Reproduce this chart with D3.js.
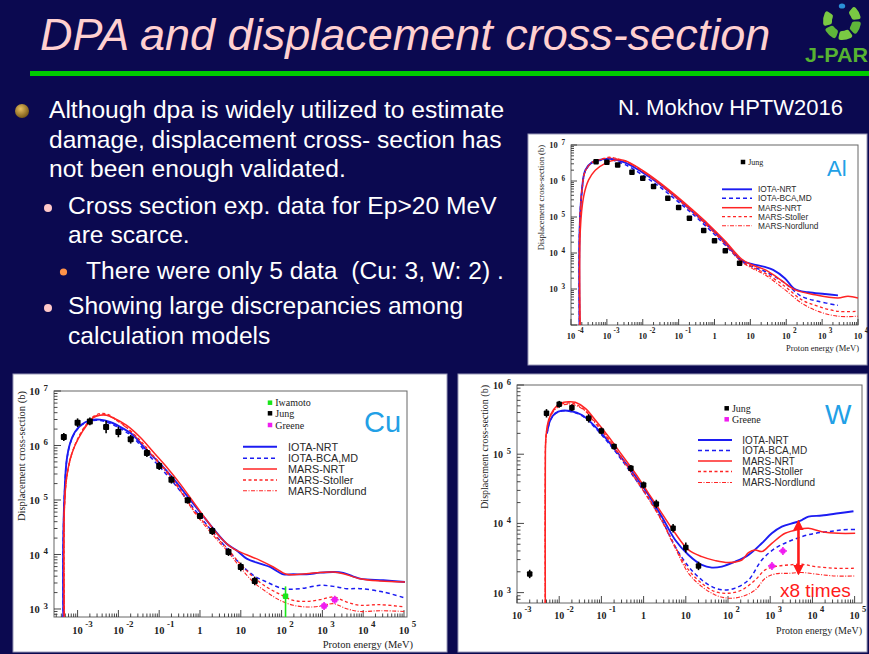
<!DOCTYPE html>
<html>
<head>
<meta charset="utf-8">
<script src="https://cdn.jsdelivr.net/npm/d3@7"></script>
<style>
  html, body { margin: 0; padding: 0; background: #0b0950; }
  svg { display: block; }
</style>
</head>
<body>
<svg id="slide" width="869" height="654"></svg>
<script>
// ===================== DATA =====================
// Energies in MeV, displacement cross-sections in barns.

// ---- Al ----
const alJungE     = [5e-4, 1e-3, 2e-3, 5e-3, 1e-2, 2e-2, 5e-2, 0.1, 0.2, 0.5, 1, 2, 5];
const alJungSigma = [3.45e6, 3.3e6, 2.8e6, 1.75e6, 1.19e6, 7.0e5, 3.3e5, 1.83e5, 9.3e4, 4.2e4, 2.2e4, 1.15e4, 5.2e3];

const alIotaNrt = [[1.74e-4,50],[1.74e-4,4.4e4],[2.02e-4,5.7e5],[2.51e-4,2.0e6],[3.84e-4,3.3e6],[7.3e-4,4.0e6],[1.38e-3,4.1e6],[3.24e-3,3.24e6],[9.4e-3,1.79e6],[2.74e-2,8.7e5],[7.96e-2,3.7e5],[0.231,1.48e5],[0.673,5.7e4],[1.95,1.96e4],[5.68,6.2e3],[10.8,5.0e3],[25.3,4.1e3],[43,3.4e3],[91,2.0e3],[173,1.0e3],[406,810],[1178,727],[2767,667]];
const alIotaBca = [[1.74e-4,50],[1.74e-4,4.4e4],[2.02e-4,5.5e5],[2.51e-4,1.9e6],[3.84e-4,3.2e6],[7.3e-4,3.8e6],[1.38e-3,3.8e6],[3.24e-3,2.85e6],[9.4e-3,1.51e6],[2.74e-2,7.3e5],[7.96e-2,3.12e5],[0.231,1.28e5],[0.673,4.8e4],[1.95,1.69e4],[5.68,5.85e3],[10.8,4.25e3],[25.3,3.09e3],[91,1.47e3],[265,627],[769,455],[2767,352]];
const alMarsNrt = [[1.82e-4,50],[1.82e-4,4.4e4],[2.25e-4,3.7e5],[3.1e-4,1.07e6],[4.75e-4,2.0e6],[9.0e-4,3.1e6],[1.71e-3,3.84e6],[3.24e-3,3.68e6],[9.4e-3,2.03e6],[2.74e-2,9.6e5],[7.96e-2,4.1e5],[0.231,1.65e5],[0.673,6.3e4],[1.95,2.18e4],[5.68,6.8e3],[10.8,4.7e3],[25.3,3.44e3],[59.4,2.02e3],[173,960],[621,697],[2767,564],[5248,627],[1e4,564]];
const alMarsStoller = [[1.74e-4,50],[1.74e-4,4.4e4],[2.02e-4,5.7e5],[2.51e-4,1.9e6],[3.84e-4,3.3e6],[7.3e-4,4.1e6],[1.2e-3,4.6e6],[1.71e-3,4.3e6],[3.24e-3,3.6e6],[9.4e-3,1.95e6],[2.74e-2,9.0e5],[7.96e-2,3.8e5],[0.231,1.5e5],[0.673,5.6e4],[1.95,1.9e4],[5.68,6.0e3],[10.8,4.1e3],[25.3,2.77e3],[91,1.19e3],[265,506],[769,331],[2767,240],[1e4,240]];
const alMarsNordlund = [[1.74e-4,50],[1.74e-4,4.4e4],[2.02e-4,5.5e5],[2.51e-4,1.9e6],[3.84e-4,3.2e6],[7.3e-4,4.0e6],[1.2e-3,4.4e6],[1.71e-3,4.2e6],[3.24e-3,3.5e6],[9.4e-3,1.9e6],[2.74e-2,8.6e5],[7.96e-2,3.6e5],[0.231,1.42e5],[0.673,5.3e4],[1.95,1.8e4],[5.68,5.7e3],[10.8,3.8e3],[25.3,2.5e3],[91,960],[265,409],[769,240],[2767,175],[1e4,175]];

// ---- Cu ----
const cuJungE     = [4.6e-4, 1e-3, 2e-3, 5e-3, 1e-2, 2e-2, 5e-2, 0.1, 0.2, 0.5, 1, 2, 5, 10, 22];
const cuJungSigma = [1.43e6, 2.62e6, 2.77e6, 2.18e6, 1.77e6, 1.30e6, 7.28e5, 4.21e5, 2.36e5, 9.86e4, 5.08e4, 2.70e4, 1.11e4, 5.9e3, 3.27e3];
const cuJungErr   = [0.18, 0.2, 0.18, 0.3, 0.25, 0.2, 0.18, 0.18, 0.18, 0.15, 0.15, 0.18, 0.18, 0.2, 0.2];
const cuIwamotoE = [125];
const cuIwamotoSigma = [1.71e3];
const cuIwamotoLo = [500];
const cuIwamotoHi = [2.6e3];
const cuGreeneE = [1.1e3, 2.0e3];
const cuGreeneSigma = [1.14e3, 1.48e3];

const cuIotaNrt = [[4.47e-4,500],[4.47e-4,2.1e4],[4.91e-4,2.0e5],[5.4e-4,5.35e5],[6.5e-4,1.08e6],[8.6e-4,1.77e6],[1.26e-3,2.44e6],[2.01e-3,2.9e6],[3.54e-3,2.98e6],[6.2e-3,2.7e6],[1.32e-2,2.04e6],[2.32e-2,1.54e6],[4.93e-2,8.15e5],[0.105,4.65e5],[0.222,2.46e5],[0.471,1.22e5],[1,6.0e4],[2.12,2.98e4],[4.5,1.58e4],[7.92,1.19e4],[13.9,8.4e3],[29.6,6.8e3],[52,5.9e3],[110,4.33e3],[194,4.33e3],[411,4.33e3],[873,4.64e3],[1854,4.78e3],[3260,4.6e3],[8350,3.6e3],[3.11e4,3.36e3],[1.06e5,3.13e3]];
const cuIotaBca = [[4.47e-4,500],[4.47e-4,2.1e4],[4.91e-4,2.0e5],[5.4e-4,5.2e5],[6.5e-4,1.05e6],[8.6e-4,1.72e6],[1.26e-3,2.38e6],[2.01e-3,2.82e6],[3.54e-3,2.88e6],[6.2e-3,2.55e6],[1.32e-2,1.9e6],[2.32e-2,1.4e6],[4.93e-2,7.3e5],[0.105,4.0e5],[0.222,2.1e5],[0.471,1.03e5],[1,5.0e4],[2.12,2.5e4],[4.5,1.3e4],[9.56,6.8e3],[20.3,4.15e3],[43,3.13e3],[110,2.36e3],[283,2.36e3],[873,2.72e3],[1854,2.6e3],[3935,2.36e3],[8350,2.36e3],[3.11e4,2.05e3],[1.06e5,1.59e3]];
const cuMarsNrt = [[4.73e-4,500],[4.73e-4,6.46e4],[5.4e-4,2.64e5],[7.2e-4,7.08e5],[1.04e-3,1.33e6],[1.67e-3,2.34e6],[2.43e-3,3.24e6],[3.54e-3,3.58e6],[5.15e-3,3.58e6],[8.26e-3,3.1e6],[1.6e-2,2.34e6],[3.38e-2,1.43e6],[7.18e-2,7.6e5],[0.152,4.04e5],[0.323,2.0e5],[0.687,9.2e4],[1.46,4.24e4],[3.09,2.1e4],[6.56,1.28e4],[13.9,9.9e3],[29.6,7.8e3],[62.7,5.9e3],[133,4.33e3],[283,4.33e3],[723,4.64e3],[1854,4.78e3],[3260,4.45e3],[8350,3.6e3],[2.58e4,3.27e3],[1.06e5,3.13e3]];
const cuMarsStoller = [[4.73e-4,500],[4.73e-4,6.46e4],[5.4e-4,2.64e5],[7.2e-4,7.08e5],[1.04e-3,1.4e6],[1.67e-3,2.5e6],[2.43e-3,3.4e6],[3.54e-3,3.85e6],[5.15e-3,3.8e6],[8.26e-3,3.1e6],[1.6e-2,2.15e6],[3.38e-2,1.25e6],[7.18e-2,6.5e5],[0.152,3.4e5],[0.323,1.6e5],[0.687,6.65e4],[1.46,3.38e4],[3.09,1.77e4],[4.5,1.33e4],[9.56,6.8e3],[20.3,3.87e3],[43,2.53e3],[91.4,1.86e3],[194,1.44e3],[411,1.38e3],[873,1.48e3],[1854,1.66e3],[3935,1.34e3],[8350,1.17e3],[2.58e4,1.2e3],[1.06e5,1.09e3]];
const cuMarsNordlund = [[4.73e-4,500],[4.73e-4,6.0e4],[5.4e-4,2.5e5],[7.2e-4,6.8e5],[1.04e-3,1.35e6],[1.67e-3,2.45e6],[2.43e-3,3.3e6],[3.54e-3,3.7e6],[5.15e-3,3.65e6],[8.26e-3,3.0e6],[1.6e-2,2.1e6],[3.38e-2,1.2e6],[7.18e-2,6.2e5],[0.152,3.2e5],[0.323,1.5e5],[0.687,6.3e4],[1.46,3.1e4],[3.09,1.62e4],[4.5,1.2e4],[9.56,5.9e3],[20.3,3.13e3],[43,2.05e3],[91.4,1.44e3],[194,1.17e3],[411,1.09e3],[873,1.12e3],[1854,1.25e3],[3935,1.01e3],[8350,900],[2.58e4,930],[1.06e5,900]];

// ---- W ----
const wJungE     = [2e-3, 5e-3, 1e-2, 2e-2, 5e-2, 0.1, 0.2, 0.5, 1, 2, 5, 10, 20];
const wJungSigma = [1.86e3, 3.9e5, 5.26e5, 4.71e5, 3.3e5, 2.17e5, 1.29e5, 6.25e4, 3.6e4, 1.91e4, 8.5e3, 4.5e3, 2.43e3];
const wJungErr   = [0.15, 0.15, 0.12, 0.12, 0.15, 0.12, 0.1, 0.12, 0.12, 0.15, 0.15, 0.18, 0.15];
const wGreeneE = [1.1e3, 2.0e3];
const wGreeneSigma = [2.43e3, 4.0e3];

const wIotaNrt = [[5.13e-3,2.0e5],[6.15e-3,3.12e5],[8.09e-3,3.9e5],[1.16e-2,4.26e5],[1.83e-2,4.21e5],[3.46e-2,3.69e5],[7.16e-2,2.5e5],[0.148,1.52e5],[0.306,8.73e4],[0.634,4.85e4],[1.31,2.58e4],[2.71,1.25e4],[5.61,5.77e3],[11.6,3.5e3],[24.0,2.51e3],[41.4,2.3e3],[71.4,2.38e3],[148,2.8e3],[306,3.5e3],[632,5.16e3],[1091,7.2e3],[1884,9.0e3],[3890,1.03e4],[5600,1.12e4],[8050,1.25e4],[1.67e4,1.3e4],[4.13e4,1.4e4],[9.4e4,1.5e4]];
const wIotaBca = [[5.13e-3,2.0e5],[6.15e-3,3.1e5],[8.09e-3,3.85e5],[1.16e-2,4.2e5],[1.83e-2,4.15e5],[3.46e-2,3.6e5],[7.16e-2,2.4e5],[0.148,1.45e5],[0.306,8.2e4],[0.634,4.4e4],[1.31,2.3e4],[2.71,1.12e4],[5.61,4.62e3],[11.6,2.38e3],[24,1.52e3],[49.7,1.16e3],[85.7,1.09e3],[148,1.16e3],[306,1.52e3],[632,2.96e3],[1309,4.38e3],[2706,5.46e3],[5600,6.44e3],[1.16e4,7.2e3],[2.4e4,7.6e3],[4.95e4,8.05e3],[1.03e5,8.2e3]];
const wMarsNrt = [[4.69e-3,500],[4.69e-3,5.9e4],[4.86e-3,1.79e5],[5.62e-3,3.12e5],[7.38e-3,4.45e5],[1.06e-2,5.43e5],[1.67e-2,5.74e5],[2.4e-2,5.62e5],[4.15e-2,4.6e5],[7.16e-2,3.12e5],[0.148,1.79e5],[0.306,9.76e4],[0.634,5.3e4],[1.31,2.72e4],[2.71,1.4e4],[5.61,7.2e3],[11.6,4.14e3],[24.0,3.31e3],[49.7,2.9e3],[103,2.72e3],[213,2.96e3],[306,3.79e3],[440,4.14e3],[632,3.92e3],[1091,5.16e3],[2261,7.2e3],[4670,8.2e3],[8050,8.5e3],[1.67e4,7.6e3],[4.13e4,7.2e3],[1.03e5,7.2e3]];
const wMarsStoller = [[4.69e-3,500],[4.69e-3,5.9e4],[4.86e-3,1.79e5],[5.62e-3,3.0e5],[7.38e-3,4.3e5],[1.06e-2,5.2e5],[1.67e-2,5.5e5],[2.4e-2,5.3e5],[4.15e-2,4.3e5],[7.16e-2,2.9e5],[0.148,1.65e5],[0.306,8.8e4],[0.634,4.6e4],[1.31,2.35e4],[2.71,1.12e4],[5.61,4.62e3],[11.6,2.13e3],[24,1.36e3],[49.7,1.03e3],[103,980],[213,1.09e3],[440,1.52e3],[759,2.13e3],[1309,2.38e3],[2706,2.51e3],[5600,2.57e3],[1.16e4,2.38e3],[3.44e4,2.25e3],[1.03e5,2.25e3]];
const wMarsNordlund = [[4.69e-3,500],[4.69e-3,5.9e4],[4.86e-3,1.7e5],[5.62e-3,2.9e5],[7.38e-3,4.2e5],[1.06e-2,5.0e5],[1.67e-2,5.3e5],[2.4e-2,5.1e5],[4.15e-2,4.2e5],[7.16e-2,2.8e5],[0.148,1.6e5],[0.306,8.5e4],[0.634,4.4e4],[1.31,2.25e4],[2.71,1.07e4],[5.61,4.4e3],[11.6,1.9e3],[24,1.22e3],[49.7,927],[103,830],[213,877],[440,1.09e3],[759,1.61e3],[1309,1.86e3],[2706,1.9e3],[5600,1.95e3],[1.16e4,1.86e3],[3.44e4,1.74e3],[1.03e5,1.74e3]];

// Ratio annotation on the W plot: span between IOTA-NRT and MARS-Nordlund
const wRatioE = 4670;
const wRatioSpan = [1.06e4, 1.9e3];
const wRatioLabel = "x8 times";

// Model names (legend order)
const modelNames = ["IOTA-NRT", "IOTA-BCA,MD", "MARS-NRT", "MARS-Stoller", "MARS-Nordlund"];

// Decade exponents that carry tick labels
const alXExps = [-4, -3, -2, -1, 0, 1, 2, 3, 4];
const alYExps = [3, 4, 5, 6, 7];
const cuXExps = [-3, -2, -1, 0, 1, 2, 3, 4, 5];
const cuYExps = [3, 4, 5, 6, 7];
const wXExps  = [-3, -2, -1, 0, 1, 2, 3, 4, 5];
const wYExps  = [3, 4, 5, 6];

// ===================== DRAWING =====================
const svg = d3.select("#slide");
const defs = svg.append("defs");
const BLUE = "#1c1cf2", RED = "#ff2424";
const modelStyle = [
  { color: BLUE, width: 1.9, dash: null },
  { color: BLUE, width: 1.5, dash: "4,3" },
  { color: RED,  width: 1.5, dash: null },
  { color: RED,  width: 1.3, dash: "3,2.5" },
  { color: RED,  width: 1.1, dash: "4,1.5,1,1.5" }
];
const SERIF = "'Liberation Serif','Times New Roman',serif";
const SANS = "'Liberation Sans',Arial,Helvetica,sans-serif";

// ---- slide background ----
svg.append("rect").attr("width", 869).attr("height", 654).attr("fill", "#0b0950");

// ---- title and rule ----
svg.append("text")
  .attr("x", 40).attr("y", 50)
  .attr("font-family", SANS).attr("font-style", "italic")
  .attr("font-size", 45).attr("fill", "#ffd0d0")
  .text("DPA and displacement cross-section");
svg.append("rect").attr("x", 30).attr("y", 71).attr("width", 839).attr("height", 5).attr("fill", "#00cc00");

// ---- J-PARC mark ----
const logo = svg.append("g").attr("transform", "translate(842,21)");
const leafArc = d3.arc().innerRadius(10).outerRadius(19).cornerRadius(2.5);
[[38, 84, "#7ac943"], [92, 136, "#5fb53a"], [144, 192, "#7ac943"], [200, 246, "#5fb53a"], [254, 304, "#7ac943"]]
  .forEach(([a0, a1, c]) => {
    logo.append("path")
      .attr("d", leafArc({ startAngle: a0 * Math.PI / 180, endAngle: a1 * Math.PI / 180 }))
      .attr("fill", c);
  });
logo.append("ellipse").attr("cx", 0).attr("cy", -15).attr("rx", 3.2).attr("ry", 2.6).attr("fill", "#2a8fd8");
svg.append("text")
  .attr("x", 805).attr("y", 62)
  .attr("font-family", SANS).attr("font-weight", "bold")
  .attr("font-size", 21).attr("fill", "#56b232")
  .attr("textLength", 63).attr("lengthAdjust", "spacingAndGlyphs")
  .text("J-PAR");

// ---- bullet text ----
const bullets = svg.append("g").attr("font-family", SANS).attr("fill", "#ffffff").attr("font-size", 24.6);
const gold = defs.append("radialGradient").attr("id", "goldBall")
  .attr("cx", "40%").attr("cy", "35%").attr("r", "65%");
gold.append("stop").attr("offset", "0%").attr("stop-color", "#e8c060");
gold.append("stop").attr("offset", "100%").attr("stop-color", "#7a5a18");
svg.append("circle").attr("cx", 22).attr("cy", 111).attr("r", 7).attr("fill", "url(#goldBall)");
svg.append("circle").attr("cx", 48).attr("cy", 208).attr("r", 4).attr("fill", "#ffc8c8");
svg.append("circle").attr("cx", 63.5).attr("cy", 272).attr("r", 3.6).attr("fill", "#ff9248");
svg.append("circle").attr("cx", 48).attr("cy", 308).attr("r", 4).attr("fill", "#ffc8c8");
[
  [49, 118, "Although dpa is widely utilized to estimate"],
  [49, 148, "damage, displacement cross- section has"],
  [49, 177, "not been enough validated."],
  [68, 214, "Cross section exp. data for Ep>20 MeV"],
  [68, 243, "are scarce."],
  [86, 279, "There were only 5 data  (Cu: 3, W: 2) ."],
  [68, 314, "Showing large discrepancies among"],
  [68, 344, "calculation models"]
].forEach(([x, y, t]) => {
  bullets.append("text").attr("x", x).attr("y", y).style("white-space", "pre").text(t);
});
svg.append("text").attr("x", 618).attr("y", 115)
  .attr("font-family", SANS).attr("font-size", 22).attr("fill", "#ffffff")
  .text("N. Mokhov HPTW2016");

// ---- generic plot ----
function drawPlot(cfg) {
  const g = svg.append("g");
  const [px, py, pw, ph] = cfg.panel;
  g.append("rect").attr("x", px).attr("y", py).attr("width", pw).attr("height", ph)
    .attr("fill", "#ffffff").attr("stroke", "#9a9ab8").attr("stroke-width", 1);

  const f = cfg.frame;
  const x = d3.scaleLog().domain(cfg.xDomain).range([f.left, f.right]);
  const y = d3.scaleLog().domain(cfg.yDomain).range([f.bottom, f.top]);

  const clipId = "clip-" + cfg.id;
  g.append("clipPath").attr("id", clipId).append("rect")
    .attr("x", f.left).attr("y", f.top).attr("width", f.right - f.left).attr("height", f.bottom - f.top);

  // frame
  g.append("rect").attr("x", f.left).attr("y", f.top)
    .attr("width", f.right - f.left).attr("height", f.bottom - f.top)
    .attr("fill", "none").attr("stroke", "#666").attr("stroke-width", 1);

  // log ticks (inward)
  const ticks = g.append("g").attr("stroke", "#333").attr("stroke-width", 0.9);
  const logTicks = (dom) => {
    const out = [];
    const e0 = Math.floor(Math.log10(dom[0])), e1 = Math.ceil(Math.log10(dom[1]));
    for (let e = e0; e <= e1; e++) for (let k = 1; k <= 9; k++) {
      const v = k * Math.pow(10, e);
      if (v >= dom[0] * 0.9999 && v <= dom[1] * 1.0001) out.push({ v, major: k === 1 });
    }
    return out;
  };
  logTicks(cfg.xDomain).forEach(t => {
    const xx = x(t.v);
    ticks.append("line").attr("x1", xx).attr("x2", xx)
      .attr("y1", f.bottom).attr("y2", f.bottom - (t.major ? cfg.tickMajor : cfg.tickMinor));
  });
  logTicks(cfg.yDomain).forEach(t => {
    const yy = y(t.v);
    ticks.append("line").attr("y1", yy).attr("y2", yy)
      .attr("x1", f.left).attr("x2", f.left + (t.major ? cfg.tickMajor : cfg.tickMinor));
  });

  // tick labels
  const lab = g.append("g").attr("font-family", SERIF).attr("font-weight", "bold").attr("fill", "#222");
  const fs = cfg.labelSize, ss = cfg.labelSize * 0.85;
  cfg.xExps.forEach(e => {
    const xx = x(Math.pow(10, e));
    const base = e === 0 ? "1" : "10";
    lab.append("text").attr("x", xx).attr("y", f.bottom + cfg.xLabelDy)
      .attr("text-anchor", "middle").attr("font-size", fs).text(base);
    if (e !== 0 && e !== 1) {
      lab.append("text").attr("x", xx + fs * 0.55 + 2).attr("y", f.bottom + cfg.xLabelDy - fs * 0.7)
        .attr("font-size", ss).text(String(e));
    }
  });
  cfg.yExps.forEach(e => {
    const yy = y(Math.pow(10, e));
    lab.append("text").attr("x", f.left - cfg.yLabelGap - ss * 0.6 - 3).attr("y", yy + fs * 0.4)
      .attr("text-anchor", "end").attr("font-size", fs).text("10");
    lab.append("text").attr("x", f.left - cfg.yLabelGap).attr("y", yy)
      .attr("text-anchor", "end").attr("font-size", ss).text(String(e));
  });

  // axis titles
  g.append("text").attr("x", cfg.xTitle[0]).attr("y", cfg.xTitle[1])
    .attr("text-anchor", "end").attr("font-family", SERIF).attr("font-size", cfg.titleSize)
    .attr("fill", "#222").text("Proton energy (MeV)");
  g.append("text")
    .attr("transform", `translate(${cfg.yTitle[0]},${cfg.yTitle[1]}) rotate(-90)`)
    .attr("text-anchor", "end").attr("font-family", SERIF).attr("font-size", cfg.titleSize)
    .attr("fill", "#222").text("Displacement cross-section (b)");

  // model curves
  const line = d3.line().x(d => x(d[0])).y(d => y(d[1])).curve(d3.curveCatmullRom.alpha(0.5));
  const curves = g.append("g").attr("clip-path", `url(#${clipId})`).attr("fill", "none");
  cfg.models.forEach((data, i) => {
    const s = modelStyle[i];
    curves.append("path").attr("d", line(data))
      .attr("stroke", s.color).attr("stroke-width", s.width)
      .attr("stroke-dasharray", s.dash);
  });

  // experimental points
  const pts = g.append("g").attr("clip-path", `url(#${clipId})`);
  cfg.points.forEach(set => {
    set.E.forEach((e, i) => {
      const cx = x(e), cy = y(set.sigma[i]);
      if (set.err) {
        pts.append("line").attr("x1", cx).attr("x2", cx)
          .attr("y1", y(set.sigma[i] * (1 + set.err[i]))).attr("y2", y(set.sigma[i] / (1 + set.err[i])))
          .attr("stroke", set.color).attr("stroke-width", 1.6);
      }
      if (set.lo) {
        pts.append("line").attr("x1", cx).attr("x2", cx)
          .attr("y1", y(set.hi[i])).attr("y2", y(set.lo[i]))
          .attr("stroke", set.color).attr("stroke-width", 1.6);
      }
      if (set.cross) {
        pts.append("line").attr("x1", cx - set.cross).attr("x2", cx + set.cross)
          .attr("y1", cy).attr("y2", cy).attr("stroke", set.color).attr("stroke-width", 1.6);
        pts.append("line").attr("x1", cx).attr("x2", cx)
          .attr("y1", cy - set.cross).attr("y2", cy + set.cross).attr("stroke", set.color).attr("stroke-width", 1.6);
      }
      pts.append("rect").attr("x", cx - set.size / 2).attr("y", cy - set.size / 2)
        .attr("width", set.size).attr("height", set.size).attr("rx", 1)
        .attr("fill", set.color);
    });
  });

  // legend: experiments
  const lg = cfg.legend;
  cfg.points.forEach((set, i) => {
    const ly = lg.pointY[i];
    g.append("rect").attr("x", lg.pointX - lg.markSize / 2).attr("y", ly - lg.markSize / 2)
      .attr("width", lg.markSize).attr("height", lg.markSize).attr("fill", set.color);
    g.append("text").attr("x", lg.pointX + lg.markSize / 2 + 3).attr("y", ly + lg.pointFont * 0.35)
      .attr("font-family", SERIF).attr("font-size", lg.pointFont).attr("fill", "#222").text(set.name);
  });
  // legend: models
  modelNames.forEach((name, i) => {
    const s = modelStyle[i], ly = lg.lineY[i];
    g.append("line").attr("x1", lg.lineX[0]).attr("x2", lg.lineX[1]).attr("y1", ly).attr("y2", ly)
      .attr("stroke", s.color).attr("stroke-width", s.width).attr("stroke-dasharray", s.dash);
    g.append("text").attr("x", lg.textX).attr("y", ly + lg.font * 0.36)
      .attr("font-family", SANS).attr("font-size", lg.font).attr("fill", "#2a2a2a").text(name);
  });

  // element label
  g.append("text").attr("x", cfg.element.x).attr("y", cfg.element.y)
    .attr("font-family", SANS).attr("font-size", cfg.element.size).attr("fill", "#22a0e6")
    .text(cfg.element.text);

  return { g, x, y };
}

// ---- Al ----
drawPlot({
  id: "al",
  panel: [528, 134, 339, 231],
  frame: { left: 571, right: 858, top: 145, bottom: 325 },
  xDomain: [1e-4, 1e4], yDomain: [100, 1e7],
  tickMajor: 6, tickMinor: 3,
  labelSize: 8.5, xLabelDy: 14, yLabelGap: 6,
  xExps: alXExps, yExps: alYExps,
  xTitle: [859, 351], yTitle: [544, 145], titleSize: 8.5,
  models: [alIotaNrt, alIotaBca, alMarsNrt, alMarsStoller, alMarsNordlund],
  points: [{ name: "Jung", E: alJungE, sigma: alJungSigma, color: "#000", size: 5.5 }],
  legend: { pointX: 743, pointY: [162], markSize: 4.5, pointFont: 8,
            lineX: [722, 752], lineY: [189.3, 198.3, 207.7, 216.7, 225.7], textX: 758, font: 8.3 },
  element: { text: "Al", x: 827, y: 176, size: 22 }
});

// ---- Cu ----
drawPlot({
  id: "cu",
  panel: [13, 374, 434, 278],
  frame: { left: 54, right: 407, top: 391, bottom: 617 },
  xDomain: [Math.pow(10, -3.578), Math.pow(10, 5.074)], yDomain: [713, 1e7],
  tickMajor: 7, tickMinor: 3.5,
  labelSize: 10.5, xLabelDy: 17, yLabelGap: 6,
  xExps: cuXExps, yExps: cuYExps,
  xTitle: [413, 648], yTitle: [25, 391], titleSize: 10.5,
  models: [cuIotaNrt, cuIotaBca, cuMarsNrt, cuMarsStoller, cuMarsNordlund],
  points: [
    { name: "Iwamoto", E: cuIwamotoE, sigma: cuIwamotoSigma, lo: cuIwamotoLo, hi: cuIwamotoHi, color: "#19e619", size: 5.5 },
    { name: "Jung", E: cuJungE, sigma: cuJungSigma, err: cuJungErr, color: "#000", size: 6 },
    { name: "Greene", E: cuGreeneE, sigma: cuGreeneSigma, cross: 4, color: "#f01cf0", size: 5.5 }
  ],
  legend: { pointX: 270, pointY: [402.7, 413.3, 425], markSize: 4.5, pointFont: 10,
            lineX: [243, 277], lineY: [446.7, 458.3, 469, 480, 490.7], textX: 288, font: 10.8 },
  element: { text: "Cu", x: 364, y: 432, size: 29 }
});

// ---- W ----
const wPlot = drawPlot({
  id: "w",
  panel: [458, 374, 409, 278],
  frame: { left: 517, right: 862, top: 385, bottom: 603 },
  xDomain: [1e-3, Math.pow(10, 5.175)], yDomain: [Math.pow(10, 2.85), 1e6],
  tickMajor: 7, tickMinor: 3.5,
  labelSize: 10, xLabelDy: 16, yLabelGap: 6,
  xExps: wXExps, yExps: wYExps,
  xTitle: [862, 634], yTitle: [488, 385], titleSize: 10,
  models: [wIotaNrt, wIotaBca, wMarsNrt, wMarsStoller, wMarsNordlund],
  points: [
    { name: "Jung", E: wJungE, sigma: wJungSigma, err: wJungErr, color: "#000", size: 5.5 },
    { name: "Greene", E: wGreeneE, sigma: wGreeneSigma, cross: 4, color: "#f01cf0", size: 5 }
  ],
  legend: { pointX: 726.7, pointY: [408.3, 419.3], markSize: 4.5, pointFont: 10,
            lineX: [698, 732], lineY: [440, 450.5, 461, 471.5, 482.5], textX: 742.3, font: 10 },
  element: { text: "W", x: 825, y: 424, size: 28 }
});

// ratio arrow on W
defs.append("marker").attr("id", "arrowHead").attr("viewBox", "0 0 10 10")
  .attr("refX", 8).attr("refY", 5).attr("markerWidth", 4).attr("markerHeight", 4)
  .attr("orient", "auto-start-reverse")
  .append("path").attr("d", "M0,0 L10,5 L0,10 z").attr("fill", "#ff1a1a");
wPlot.g.append("line")
  .attr("x1", wPlot.x(wRatioE)).attr("x2", wPlot.x(wRatioE))
  .attr("y1", wPlot.y(wRatioSpan[0])).attr("y2", wPlot.y(wRatioSpan[1]))
  .attr("stroke", "#ff1a1a").attr("stroke-width", 2.6)
  .attr("marker-start", "url(#arrowHead)").attr("marker-end", "url(#arrowHead)");
wPlot.g.append("text").attr("x", 780).attr("y", 597)
  .attr("font-family", SANS).attr("font-size", 19).attr("fill", "#ff1a1a")
  .text(wRatioLabel);
</script>
</body>
</html>
